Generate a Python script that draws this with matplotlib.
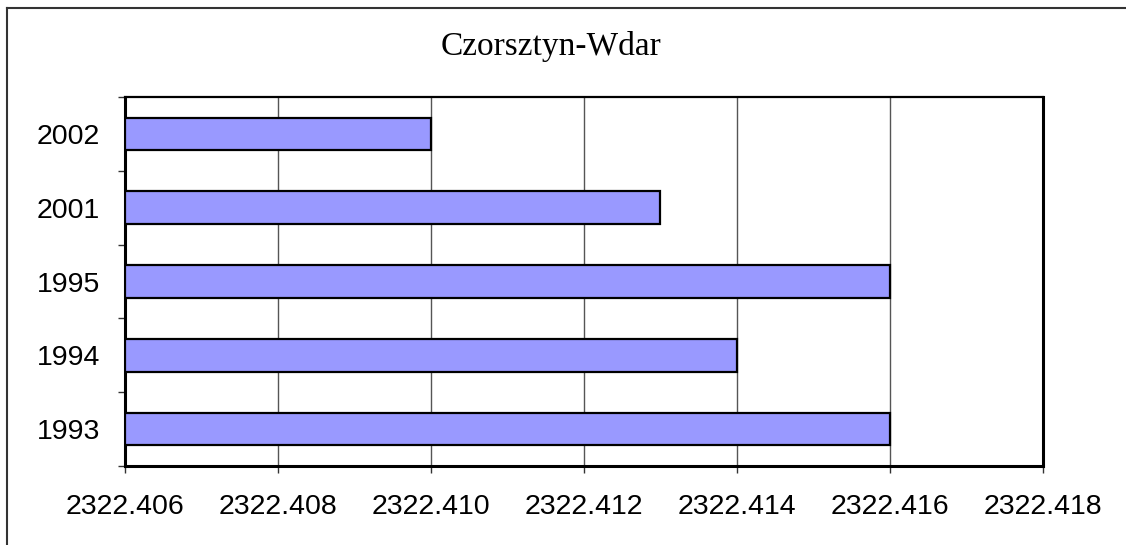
import matplotlib
matplotlib.use("Agg")
import matplotlib.pyplot as plt
from matplotlib.lines import Line2D
import numpy as np

# Data (bottom to top)
years = ["1993", "1994", "1995", "2001", "2002"]
values = [2322.416, 2322.414, 2322.416, 2322.413, 2322.410]
x_base = 2322.406
x_ticks = [2322.406, 2322.408, 2322.410, 2322.412, 2322.414, 2322.416, 2322.418]

W, H = 1126, 545
fig = plt.figure(figsize=(W / 100, H / 100), dpi=100)
ax = fig.add_axes([125 / W, 1 - 466 / H, (1043 - 125) / W, (466 - 97) / H])

# outer chart frame (only left and top edges visible)
fig.add_artist(Line2D([7 / W, 7 / W], [0, 1 - 8 / H], transform=fig.transFigure,
                      color="#333333", lw=1.5))
fig.add_artist(Line2D([7 / W, 1], [1 - 8 / H, 1 - 8 / H], transform=fig.transFigure,
                      color="#333333", lw=1.5))

y = np.arange(len(years))
widths = [v - x_base for v in values]
ax.barh(y, widths, left=x_base, height=0.44, color="#9999FF",
        edgecolor="black", linewidth=1.6, zorder=3)

ax.set_xlim(x_ticks[0], x_ticks[-1])
ax.set_ylim(-0.5, len(years) - 0.5)
ax.set_xticks(x_ticks)
ax.set_xticklabels([f"{t:.3f}" for t in x_ticks], fontsize=20.5, family="Liberation Sans")
ax.tick_params(axis="x", direction="out", length=5, width=1, color="#333333", pad=15)

# y ticks at category boundaries, labels at centers
ax.set_yticks(np.arange(-0.5, len(years), 1.0))
ax.set_yticklabels([])
ax.set_yticks(y, minor=True)
ax.set_yticklabels(years, minor=True, fontsize=20.5, family="Liberation Sans")
ax.tick_params(axis="y", which="major", direction="out", length=5, width=1, color="#333333")
ax.tick_params(axis="y", which="minor", length=0, pad=18)

ax.grid(axis="x", color="#555555", linewidth=1, zorder=0)
ax.set_axisbelow(True)
for s in ax.spines.values():
    s.set_color("black")
    s.set_linewidth(2.2)
ax.spines["top"].set_linewidth(1.6)

fig.text(551 / W, 1 - 55 / H, "Czorsztyn-Wdar", ha="center", va="baseline",
         fontsize=24, family="Liberation Serif")

fig.savefig("out.png", dpi=100)
